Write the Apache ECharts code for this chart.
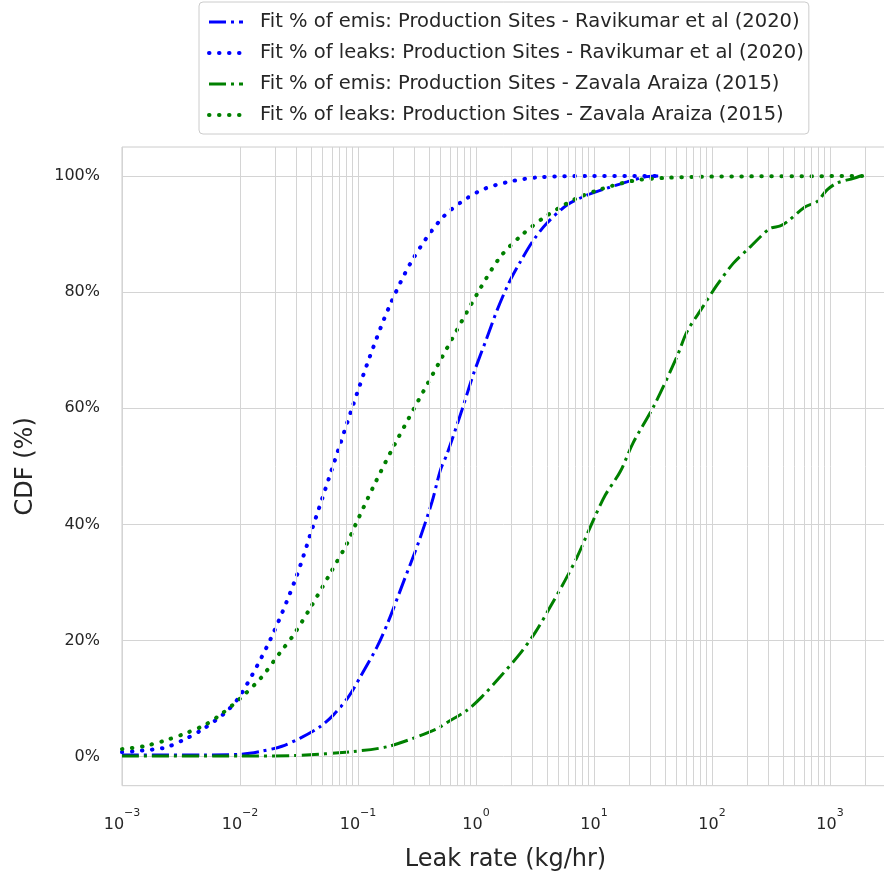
<!DOCTYPE html>
<html>
<head>
    <meta charset="utf-8">
    <title>Leak rate CDF</title>
    <script src="https://cdn.jsdelivr.net/npm/echarts@6/dist/echarts.min.js"></script>
    <style>
        html, body { margin: 0; padding: 0; background: #fff; }
        #chart { width: 884px; height: 871px; }
    </style>
</head>
<body>
    <div id="chart"></div>
    <script>
        // series names (legend order)
        const names = [
            'Fit % of emis: Production Sites - Ravikumar et al (2020)',
            'Fit % of leaks: Production Sites - Ravikumar et al (2020)',
            'Fit % of emis: Production Sites - Zavala Araiza (2015)',
            'Fit % of leaks: Production Sites - Zavala Araiza (2015)'
        ];

        // leak rate (kg/hr) and CDF (%)
        const ravEmisX = [0.001, 0.005, 0.01, 0.0149, 0.0227, 0.0324, 0.048, 0.062, 0.083, 0.105, 0.145, 0.18, 0.243, 0.327, 0.424, 0.5, 0.57, 0.76, 0.955, 1.22, 1.51, 1.89, 2.37, 3.08, 4.0, 5.9, 8.7, 12, 19, 28, 35];
        const ravEmisY = [0.3, 0.3, 0.4, 0.9, 1.8, 3.2, 5.2, 7.2, 10.3, 13.8, 18.9, 23.2, 30.1, 37.0, 43.9, 49.4, 52.2, 59.7, 66.0, 71.8, 76.9, 81.5, 85.2, 89.0, 91.9, 95.0, 96.7, 97.7, 99.0, 99.9, 100];

        const ravLeakX = [0.001, 0.00225, 0.0034, 0.0049, 0.0078, 0.0104, 0.0184, 0.0298, 0.041, 0.057, 0.0695, 0.09, 0.126, 0.184, 0.292, 0.53, 1.04, 1.89, 3.5, 10, 36.5];
        const ravLeakY = [0.8, 1.5, 3.0, 4.8, 7.9, 11.0, 20.5, 30.8, 39.3, 48.1, 53.4, 60.3, 68.9, 77.5, 85.7, 93.0, 97.3, 99.0, 99.8, 100, 100];

        const zavEmisX = [0.001, 0.01, 0.03, 0.092, 0.176, 0.296, 0.467, 0.57, 0.84, 1.12, 1.61, 2.37, 3.18, 4.26, 5.7, 7.2, 9.9, 12.5, 16.7, 21.4, 32, 50.5, 61.4, 82, 110, 152, 211, 256, 312, 379, 432, 617, 776, 944, 1146, 1585, 1807];
        const zavEmisY = [0.1, 0.1, 0.2, 0.9, 1.7, 3.2, 4.8, 5.9, 8.0, 10.3, 13.8, 17.8, 21.4, 25.8, 30.4, 34.4, 40.8, 45.1, 49.1, 54.0, 60.3, 68.9, 73.2, 77.2, 81.2, 85.0, 87.8, 89.5, 91.0, 91.4, 92.1, 94.7, 95.6, 97.6, 98.8, 99.6, 100];

        const zavLeakX = [0.001, 0.00153, 0.00233, 0.00343, 0.00508, 0.007, 0.01, 0.0151, 0.022, 0.0285, 0.0394, 0.0594, 0.0807, 0.095, 0.135, 0.2, 0.5, 1.07, 1.61, 2.37, 3.74, 6.7, 11.3, 21.7, 41.6, 100, 2000];
        const zavLeakY = [1.3, 1.8, 2.8, 4.0, 5.5, 7.4, 10.0, 13.6, 18.0, 21.0, 25.6, 31.9, 36.7, 39.9, 46.5, 53.4, 68.3, 80.4, 86.1, 89.6, 92.8, 95.9, 97.7, 99.2, 99.7, 99.9, 100];

        // axis ticks
        const decades = [-3, -2, -1, 0, 1, 2, 3];
        const minorMult = [2, 3, 4, 5, 6, 7, 8, 9];
        const yTicks = [0, 20, 40, 60, 80, 100];

        const xMin = 0.001, xMax = 3162.28;
        const minorTicks = [];
        decades.forEach(d => minorMult.forEach(m => {
            const v = m * Math.pow(10, d);
            if (v < xMax) minorTicks.push(v);
        }));

        const pairs = (xs, ys) => xs.map((x, i) => [x, ys[i]]);

        const font = '"DejaVu Sans", sans-serif';
        const txt = '#262626';
        const gridCol = '#d4d4d4';
        const blue = '#0000ff', green = '#008000';
        const dashDot = [17, 5, 3, 5];
        const dotted = [0.5, 9.5];
        const emisLine = c => ({ color: c, width: 3, type: dashDot });
        const leakLine = c => ({ color: c, width: 4, type: dotted, cap: 'round' });
        const styles = [emisLine(blue), leakLine(blue), emisLine(green), leakLine(green)];

        const left = 122, plotW = 767;

        const chart = echarts.init(document.getElementById('chart'));
        chart.setOption({
            backgroundColor: '#fff',
            animation: false,
            textStyle: { fontFamily: font },
            legend: {
                data: names.map((n, i) => ({ name: n, lineStyle: styles[i] })),
                orient: 'vertical',
                left: 199,
                top: 2,
                padding: [9, 5, 8, 8],
                itemWidth: 34,
                itemHeight: 14,
                itemGap: 9,
                backgroundColor: '#fff',
                borderColor: '#cccccc',
                borderWidth: 1,
                borderRadius: 4,
                itemStyle: { opacity: 0 },
                textStyle: { fontSize: 19.5, lineHeight: 22, color: txt, fontFamily: font, padding: [0, 0, 0, 12] }
            },
            grid: [
                { left: left, top: 147, width: plotW, height: 638.7, show: true, borderColor: '#cccccc', borderWidth: 1, backgroundColor: '#fff', outerBoundsMode: 'none' },
                { left: left, top: 176, width: plotW, height: 580.7, outerBoundsMode: 'none' }
            ],
            xAxis: [
                {
                    type: 'log', logBase: 10, gridIndex: 0, min: xMin, max: xMax,
                    axisLine: { show: false }, axisTick: { show: false },
                    splitLine: { show: true, lineStyle: { color: gridCol, width: 1 } },
                    name: 'Leak rate (kg/hr)', nameLocation: 'middle', nameGap: 62,
                    nameTextStyle: { fontSize: 24, color: txt, fontFamily: font },
                    axisLabel: {
                        margin: 22,
                        formatter: function (v) {
                            const l = Math.log10(v), e = Math.round(l);
                            if (Math.abs(l - e) > 1e-6 || decades.indexOf(e) < 0) return '';
                            return '{b|10}{s|' + (e < 0 ? '\u2212' + (-e) : e) + '}';
                        },
                        rich: {
                            b: { fontSize: 16, color: txt, fontFamily: font, lineHeight: 25, verticalAlign: 'bottom' },
                            s: { fontSize: 11, color: txt, fontFamily: font, lineHeight: 11, verticalAlign: 'top' }
                        }
                    }
                },
                { type: 'value', gridIndex: 1, min: 0, max: 1, show: false }
            ],
            yAxis: [
                { type: 'value', gridIndex: 0, min: -5, max: 105, show: false, splitLine: { show: false } },
                {
                    type: 'value', gridIndex: 1, min: yTicks[0], max: yTicks[yTicks.length - 1], interval: 20,
                    axisLine: { show: false }, axisTick: { show: false },
                    splitLine: { show: true, lineStyle: { color: gridCol, width: 1 } },
                    axisLabel: { formatter: '{value}%', fontSize: 16, color: txt, fontFamily: font, margin: 22 },
                    name: 'CDF (%)', nameLocation: 'middle', nameGap: 84, nameRotate: 90,
                    nameTextStyle: { fontSize: 24, color: txt, fontFamily: font }
                }
            ],
            series: [
                {
                    name: 'minor', type: 'line', data: [], z: 1, silent: true,
                    markLine: {
                        silent: true, symbol: 'none', animation: false,
                        label: { show: false },
                        lineStyle: { color: gridCol, width: 1, type: 'solid' },
                        data: minorTicks.map(v => ({ xAxis: v }))
                    }
                },
                {
                    name: names[0], type: 'line', data: pairs(ravEmisX, ravEmisY), showSymbol: false, symbol: 'none', smooth: 0.3,
                    lineStyle: styles[0], itemStyle: { color: blue }
                },
                {
                    name: names[1], type: 'line', data: pairs(ravLeakX, ravLeakY), showSymbol: false, symbol: 'none', smooth: 0.3,
                    lineStyle: styles[1], itemStyle: { color: blue }
                },
                {
                    name: names[2], type: 'line', data: pairs(zavEmisX, zavEmisY), showSymbol: false, symbol: 'none', smooth: 0.3,
                    lineStyle: styles[2], itemStyle: { color: green }
                },
                {
                    name: names[3], type: 'line', data: pairs(zavLeakX, zavLeakY), showSymbol: false, symbol: 'none', smooth: 0.3,
                    lineStyle: styles[3], itemStyle: { color: green }
                }
            ]
        });
    </script>
</body>
</html>
